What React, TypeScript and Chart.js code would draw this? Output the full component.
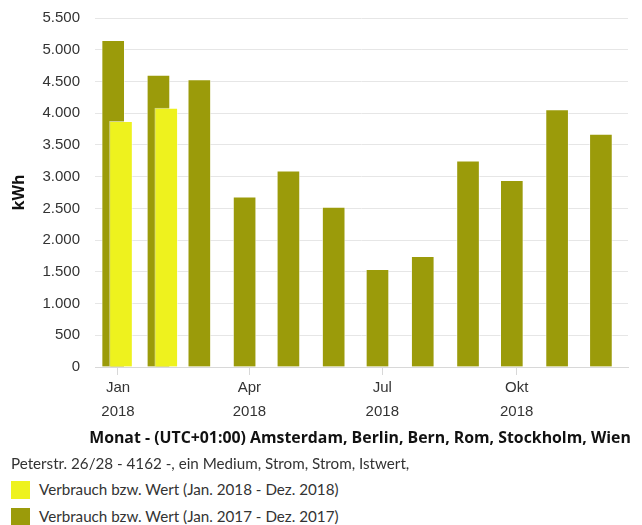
import React, { useEffect, useRef } from "react";
import { Chart, registerables } from "chart.js";

Chart.register(...registerables);

// ---- data ----
const MONTH_START_DAYS = [0, 31, 59, 90, 120, 151, 181, 212, 243, 273, 304, 334];
const VALUES_2018: (number | null)[] = [3870, 4080, null, null, null, null, null, null, null, null, null, null];
const VALUES_2017: number[] = [5150, 4600, 4530, 2680, 3090, 2520, 1540, 1745, 3250, 2940, 4055, 3670];
const TICK_DAYS = [0, 90, 181, 273];
const TICK_MONTHS = ["Jan", "Apr", "Jul", "Okt"];
const TICK_YEARS = ["2018", "2018", "2018", "2018"];
const SERIES_LABELS = [
  "Verbrauch bzw. Wert (Jan. 2018 - Dez. 2018)",
  "Verbrauch bzw. Wert (Jan. 2017 - Dez. 2017)",
];
const LEGEND_TITLE = "Peterstr. 26/28 - 4162 -, ein Medium, Strom, Strom, Istwert,";
const X_TITLE = "Monat - (UTC+01:00) Amsterdam, Berlin, Bern, Rom, Stockholm, Wien";
const Y_TITLE = "kWh";

// ---- styles / layout ----
const YELLOW = "#eef21e";
const OLIVE = "#9b9b0a";
const X_MIN = -15.75;
const X_MAX = 349.25;
const SHIFT_2017 = -3.3; // group offset in days
const SHIFT_2018 = 2.05;

const fmtDE = (v: number) => String(v).replace(/\B(?=(\d{3})+(?!\d))/g, ".");

export default function App() {
  const ref = useRef<HTMLCanvasElement | null>(null);

  useEffect(() => {
    if (!ref.current) return;
    const toPoints = (vals: (number | null)[]) =>
      MONTH_START_DAYS.map((d, i) => ({ x: d, y: vals[i] }));

    const hiddenX = (shift: number) => ({
      type: "linear",
      display: false,
      offset: false,
      grid: { offset: false },
      min: X_MIN - shift,
      max: X_MAX - shift,
    });

    const chart = new Chart(ref.current, {
      type: "bar",
      data: {
        datasets: [
          {
            label: SERIES_LABELS[0],
            data: toPoints(VALUES_2018) as any,
            backgroundColor: YELLOW,
            borderColor: "rgba(255,255,255,0.55)",
            borderWidth: 1,
            xAxisID: "x18",
            yAxisID: "y",
            grouped: false,
            barThickness: 23,
          },
          {
            label: SERIES_LABELS[1],
            data: toPoints(VALUES_2017) as any,
            backgroundColor: OLIVE,
            borderColor: "rgba(255,255,255,0.55)",
            borderWidth: 1,
            xAxisID: "x17",
            yAxisID: "y",
            grouped: false,
            barThickness: 23,
          },
        ],
      },
      options: {
        animation: false,
        responsive: true,
        maintainAspectRatio: false,
        layout: { padding: { top: 18, right: 14, left: 0, bottom: 0 } },
        plugins: {
          legend: { display: false },
          tooltip: { enabled: false },
          title: { display: false },
        },
        scales: {
          x: {
            type: "linear",
            position: "bottom",
            offset: false,
            min: X_MIN,
            max: X_MAX,
            afterBuildTicks: (s: any) => {
              s.ticks = TICK_DAYS.map((v) => ({ value: v }));
            },
            afterFit: (s: any) => {
              s.height = 85;
              s.paddingLeft = 0;
              s.paddingRight = 0;
            },
            ticks: {
              autoSkip: false,
              maxRotation: 0,
              minRotation: 0,
              padding: 1,
              color: "#333",
              font: { family: '"Liberation Sans", Arial, sans-serif', size: 15, lineHeight: 1.6 },
              callback: (_v: any, i: number) => [TICK_MONTHS[i], TICK_YEARS[i]],
            },
            grid: { offset: false, drawOnChartArea: false, drawTicks: true, tickLength: 8, color: "#d8d8d8" },
            border: { display: true, color: "#d8d8d8" },
            title: { display: false },
          },
          x17: hiddenX(SHIFT_2017),
          x18: hiddenX(SHIFT_2018),
          y: {
            type: "linear",
            min: 0,
            max: 5500,
            afterFit: (s: any) => {
              s.width = 95;
              s.paddingTop = 0;
              s.paddingBottom = 0;
            },
            ticks: {
              stepSize: 500,
              padding: 15,
              color: "#333",
              font: { family: '"Liberation Sans", Arial, sans-serif', size: 15 },
              callback: (v: any) => fmtDE(Number(v)),
            },
            grid: { color: "#e6e6e6", drawTicks: false, lineWidth: 1 },
            border: { display: false },
            title: {
              display: true,
              text: Y_TITLE,
              color: "#111",
              font: { family: '"Open Sans", sans-serif', size: 16, weight: "bold" },
              padding: { top: 10, bottom: 0 },
            },
          },
        },
      } as any,
    });
    return () => chart.destroy();
  }, []);

  const legendColors = [YELLOW, OLIVE];

  return (
    <div style={{ position: "absolute", left: 0, top: 0, width: 642, height: 525, overflow: "hidden", background: "#fff" }}>
      <div style={{ position: "absolute", left: 0, top: 0, width: 642, height: 452 }}>
        <canvas ref={ref} />
      </div>
      <div
        style={{
          position: "absolute",
          left: 0,
          width: 720,
          top: 426.9,
          textAlign: "center",
          font: 'bold 15.85px "Open Sans", sans-serif',
          lineHeight: "20px",
          color: "#111",
          whiteSpace: "nowrap",
        }}
      >
        {X_TITLE}
      </div>
      <div
        style={{
          position: "absolute",
          left: 11,
          top: 453.5,
          font: '15.2px "Lato", sans-serif',
          lineHeight: "18px",
          color: "#333",
          whiteSpace: "nowrap",
        }}
      >
        {LEGEND_TITLE}
      </div>
      {SERIES_LABELS.map((lab, i) => (
        <React.Fragment key={lab}>
          <div
            style={{
              position: "absolute",
              left: 11,
              top: 481 + i * 27,
              width: 19,
              height: 18,
              background: legendColors[i],
            }}
          />
          <div
            style={{
              position: "absolute",
              left: 39,
              top: 480 + i * 26.5,
              font: '15.2px "Lato", sans-serif',
              lineHeight: "18px",
              color: "#333",
              whiteSpace: "nowrap",
            }}
          >
            {lab}
          </div>
        </React.Fragment>
      ))}
    </div>
  );
}
